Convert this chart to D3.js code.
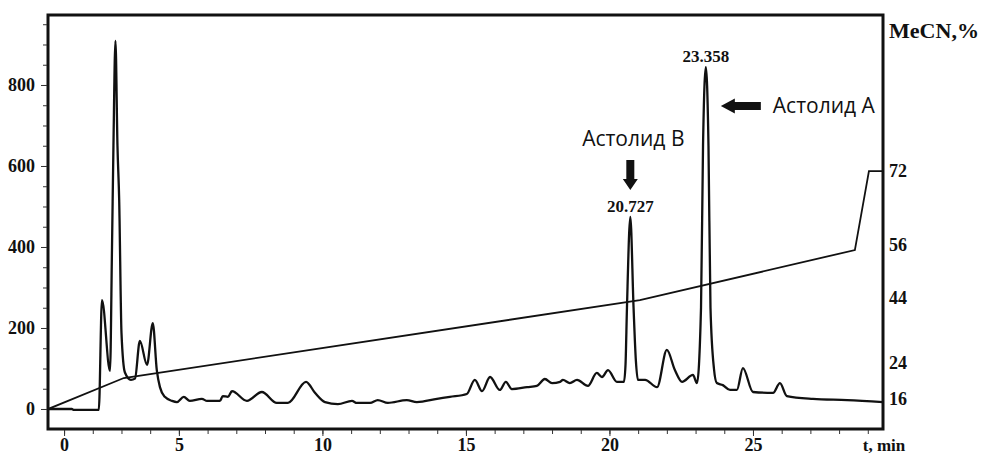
<!DOCTYPE html>
<html>
<head>
<meta charset="utf-8">
<script src="https://cdn.jsdelivr.net/npm/d3@7"></script>
<style>
  html, body { margin: 0; padding: 0; background: #fff; }
  svg { display: block; }
</style>
</head>
<body>
<svg id="chart" width="982" height="454"></svg>
<script>
// ---------- data ----------
const times = [0.44, 1.27, 1.34, 2.21, 2.32, 2.60, 2.67, 2.72, 2.79, 2.86, 2.92, 3.00, 3.12, 3.33, 3.47, 3.64, 3.89, 4.09, 4.23, 4.34, 4.51, 4.76, 4.93, 5.17, 5.38, 5.80, 5.98, 6.43, 6.53, 6.71, 6.85, 7.37, 7.89, 8.41, 8.80, 9.43, 9.74, 10.09, 10.54, 11.03, 11.20, 11.66, 11.93, 12.28, 12.94, 13.29, 13.99, 14.44, 15.03, 15.31, 15.56, 15.84, 16.18, 16.39, 16.60, 17.13, 17.47, 17.75, 18.00, 18.28, 18.38, 18.62, 18.87, 19.25, 19.56, 19.74, 19.95, 20.26, 20.505, 20.56, 20.61, 20.727, 20.84, 20.92, 20.99, 21.24, 21.66, 22.00, 22.28, 22.53, 22.91, 23.05, 23.19, 23.26, 23.358, 23.45, 23.52, 23.64, 23.74, 23.95, 24.20, 24.44, 24.65, 25.00, 25.70, 25.94, 26.18, 27.09, 28.28, 29.53];
const signal = [0, 0, -2, -2, 269, 94, 400, 650, 909, 650, 516, 188, 90, 72, 75, 168, 109, 212, 96, 54, 30, 20, 17, 30, 20, 25, 20, 20, 32, 30, 44, 20, 42, 15, 15, 67, 40, 17, 12, 20, 15, 15, 22, 15, 22, 17, 25, 30, 37, 72, 44, 79, 47, 67, 49, 54, 57, 74, 64, 67, 72, 64, 72, 57, 89, 79, 96, 67, 67, 110, 250, 474, 250, 120, 72, 72, 54, 146, 96, 67, 84, 64, 250, 650, 844, 650, 250, 100, 64, 59, 47, 47, 101, 42, 40, 64, 32, 25, 22, 17];

// gradient (MeCN, %)
const gradTime = [0.44, 3.08, 21.06, 28.55, 29.04, 29.53];
const gradMeCN = [13.8, 20.7, 43.4, 54.9, 72, 72];

// axes
const xTickValues = [1, 5, 10, 15, 20, 25];
const xTickLabels = ["0", "5", "10", "15", "20", "25"];
const xMinorTicks = d3.range(1, 30);
const yTickValues = [0, 200, 400, 600, 800];
const yMinorTicks = d3.range(0, 1000, 50);
const mecnTicks = [16, 24, 44, 56, 72];

// peaks / annotations
const peakTimes = [20.727, 23.358];
const peakHeights = [474, 844];
const peakLabels = ["20.727", "23.358"];
const compoundNames = ["Астолид В", "Астолид А"];

// ---------- layout ----------
const W = 982, H = 454;
const m = { left: 48, top: 15, right: 99, bottom: 25 };
const pw = W - m.left - m.right, ph = H - m.top - m.bottom;

const svg = d3.select("#chart");
const serif = "'Liberation Serif', 'Times New Roman', serif";
const sans = "'Open Sans', 'Noto Sans', sans-serif";

const x = d3.scaleLinear().domain([0.44, 29.53]).range([m.left, m.left + pw]);
const y = d3.scaleLinear().domain([-49.4, 972.8]).range([m.top + ph, m.top]);
// right axis (MeCN %) – piecewise, as printed on the original
const yR = d3.scaleLinear().domain(mecnTicks)
  .range([m.top + ph * 0.928, m.top + ph * 0.841, m.top + ph * 0.684, m.top + ph * 0.556, m.top + ph * 0.377]);

// clip
svg.append("defs").append("clipPath").attr("id", "clip")
  .append("rect").attr("x", m.left).attr("y", m.top).attr("width", pw).attr("height", ph);

// gradient line
const gradData = gradTime.map((t, i) => [t, gradMeCN[i]]);
svg.append("path")
  .datum(gradData)
  .attr("clip-path", "url(#clip)")
  .attr("fill", "none").attr("stroke", "#111").attr("stroke-width", 1.8)
  .attr("d", d3.line().x(d => x(d[0])).y(d => yR(d[1])));

// chromatogram
const trace = times.map((t, i) => [t, signal[i]]);
svg.append("path")
  .datum(trace)
  .attr("clip-path", "url(#clip)")
  .attr("fill", "none").attr("stroke", "#111").attr("stroke-width", 2.3)
  .attr("stroke-linejoin", "round")
  .attr("d", d3.line().curve(d3.curveMonotoneX).x(d => x(d[0])).y(d => y(d[1])));

// frame
svg.append("rect")
  .attr("x", m.left).attr("y", m.top).attr("width", pw).attr("height", ph)
  .attr("fill", "none").attr("stroke", "#111").attr("stroke-width", 3);

// x axis
const xAxisG = svg.append("g").attr("transform", `translate(0,${m.top + ph + 1})`);
xAxisG.call(d3.axisBottom(x).tickValues(xMinorTicks).tickSize(4).tickFormat(""))
  .call(g => g.select(".domain").remove())
  .call(g => g.selectAll("line").attr("stroke", "#333").attr("stroke-width", 1));
const xLab = svg.append("g").attr("transform", `translate(0,${m.top + ph + 1})`);
xLab.call(d3.axisBottom(x).tickValues(xTickValues).tickSize(6)
    .tickFormat((d, i) => xTickLabels[i]))
  .call(g => g.select(".domain").remove())
  .call(g => g.selectAll("line").attr("stroke", "#333").attr("stroke-width", 1))
  .call(g => g.selectAll("text").attr("font-family", serif).attr("font-weight", "bold")
    .attr("font-size", 18).attr("fill", "#111").attr("y", 8).attr("dy", "0.71em"));
svg.append("text").attr("x", 884).attr("y", 451).attr("text-anchor", "middle")
  .attr("font-family", serif).attr("font-weight", "bold").attr("font-size", 17).attr("fill", "#111")
  .text("t, min");

// left y axis
const yMinorG = svg.append("g").attr("transform", `translate(${m.left - 1},0)`);
yMinorG.call(d3.axisLeft(y).tickValues(yMinorTicks).tickSize(4).tickFormat(""))
  .call(g => g.select(".domain").remove())
  .call(g => g.selectAll("line").attr("stroke", "#333").attr("stroke-width", 1));
const yG = svg.append("g").attr("transform", `translate(${m.left - 1},0)`);
yG.call(d3.axisLeft(y).tickValues(yTickValues).tickSize(6).tickPadding(6).tickFormat(d3.format("d")))
  .call(g => g.select(".domain").remove())
  .call(g => g.selectAll("line").attr("stroke", "#333").attr("stroke-width", 1))
  .call(g => g.selectAll("text").attr("font-family", serif).attr("font-weight", "bold")
    .attr("font-size", 18).attr("fill", "#111"));

// right axis (labels only)
const rG = svg.append("g").attr("transform", `translate(${m.left + pw + 6},0)`);
rG.call(d3.axisRight(yR).tickValues(mecnTicks).tickSize(0).tickPadding(0).tickFormat(d3.format("d")))
  .call(g => g.select(".domain").remove())
  .call(g => g.selectAll("text").attr("font-family", serif).attr("font-weight", "bold")
    .attr("font-size", 18).attr("fill", "#111"));
svg.append("text").attr("x", 889).attr("y", 38)
  .attr("font-family", serif).attr("font-weight", "bold").attr("font-size", 21).attr("fill", "#111")
  .attr("textLength", 90).attr("lengthAdjust", "spacingAndGlyphs")
  .text("MeCN,%");

// peak labels
peakTimes.forEach((t, i) => {
  svg.append("text").attr("x", x(t)).attr("y", y(peakHeights[i]) - 5)
    .attr("text-anchor", "middle")
    .attr("font-family", serif).attr("font-weight", "bold").attr("font-size", 17).attr("fill", "#111")
    .text(peakLabels[i]);
});

// annotation B (down arrow)
const bx = x(peakTimes[0]);
const bTipY = y(peakHeights[0]) - 27;
svg.append("path")
  .attr("d", `M${bx - 4},${bTipY - 30} L${bx + 4},${bTipY - 30} L${bx + 4},${bTipY - 11} L${bx + 7.5},${bTipY - 11} L${bx},${bTipY} L${bx - 7.5},${bTipY - 11} L${bx - 4},${bTipY - 11} Z`)
  .attr("fill", "#111");
svg.append("text").attr("x", bx + 3).attr("y", bTipY - 44).attr("text-anchor", "middle")
  .attr("font-family", sans).attr("font-size", 21).attr("fill", "#111")
  .text(compoundNames[0]);

// annotation A (left arrow)
const ax = x(peakTimes[1]) + 15;
const ay = 106;
svg.append("path")
  .attr("d", `M${ax},${ay} L${ax + 14},${ay - 7.5} L${ax + 14},${ay - 4} L${ax + 40},${ay - 4} L${ax + 40},${ay + 4} L${ax + 14},${ay + 4} L${ax + 14},${ay + 7.5} Z`)
  .attr("fill", "#111");
svg.append("text").attr("x", ax + 52).attr("y", ay + 7).attr("text-anchor", "start")
  .attr("font-family", sans).attr("font-size", 21).attr("fill", "#111")
  .text(compoundNames[1]);
</script>
</body>
</html>
